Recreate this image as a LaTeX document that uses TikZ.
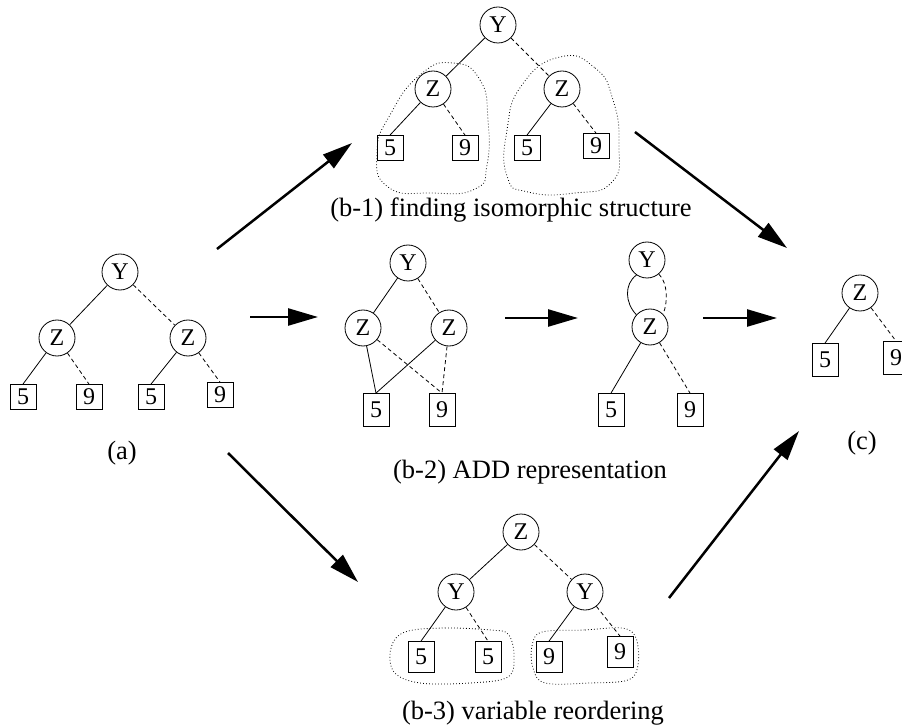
\documentclass[tikz,border=0pt]{standalone}
\usepackage{fontspec}
\setmainfont{Liberation Serif}
\usetikzlibrary{arrows.meta}
\begin{document}
\begin{tikzpicture}[x=1pt,y=-1pt,
 every node/.style={font=\fontsize{26.5}{30}\selectfont},
 vnode/.style={circle,draw,line width=0.8pt,minimum size=36pt,inner sep=0pt,font=\fontsize{24}{28}\selectfont},
 leaf/.style={draw,line width=0.8pt,minimum width=26pt,minimum height=25pt,inner sep=0pt,font=\fontsize{24}{28}\selectfont},
 leafmid/.style={leaf,minimum height=31pt},
 leaftall/.style={leaf,minimum height=33pt},
 hi/.style={line width=0.8pt},
 lo/.style={line width=0.8pt,dash pattern=on 4pt off 3pt},
 blob/.style={line width=0.8pt,dash pattern=on 0.8pt off 2.2pt},
 bigarrow/.style={line width=2.5pt,-{Triangle[length=30pt,width=17pt]}},
]
\clip (0,0) rectangle (902,727);

% (a)
\node[vnode] (aY) at (120,272) {Y};
\node[vnode] (aZ1) at (57,338) {Z};
\node[vnode] (aZ2) at (188,338) {Z};
\node[leaf] (a5a) at (23,397) {5};
\node[leaf] (a9a) at (89,397) {9};
\node[leaf] (a5b) at (151,397) {5};
\node[leaf] (a9b) at (220,395) {9};
\draw[hi] (aY) -- (aZ1);
\draw[lo] (aY) -- (aZ2);
\draw[hi] (aZ1) -- (a5a.north);
\draw[lo] (aZ1) -- (a9a.north);
\draw[hi] (aZ2) -- (a5b.north);
\draw[lo] (aZ2) -- (a9b.north);
\node (la) at (122,453) {(a)};

% (b-1)
\node[vnode] (bY) at (498,25) {Y};
\node[vnode] (bZ1) at (433,89) {Z};
\node[vnode] (bZ2) at (562,89) {Z};
\node[leaf] (b5a) at (390,148) {5};
\node[leaf] (b9a) at (465,148) {9};
\node[leaf] (b5b) at (527,148) {5};
\node[leaf] (b9b) at (596,146) {9};
\draw[hi] (bY) -- (bZ1);
\draw[lo] (bY) -- (bZ2);
\draw[hi] (bZ1) -- (b5a.north);
\draw[lo] (bZ1) -- (b9a.north);
\draw[hi] (bZ2) -- (b5b.north);
\draw[lo] (bZ2) -- (b9b.north);
\draw[blob] plot[smooth cycle,tension=0.9] coordinates {(453,63) (480,80) (488,120) (487,165) (475,189) (432,193) (388,187) (377,152) (390,115) (420,75)};
\draw[blob] plot[smooth cycle,tension=0.9] coordinates {(560,57) (595,68) (613,100) (619,145) (612,182) (575,193) (528,192) (507,176) (507,130) (522,85)};
\node (lb1) at (511,210) {(b-1) finding isomorphic structure};

% (b-2)
\node[vnode] (cY) at (408,263) {Y};
\node[vnode] (cZ1) at (363,328) {Z};
\node[vnode] (cZ2) at (449,328) {Z};
\node[leaftall] (c5) at (376,410) {5};
\node[leaftall] (c9) at (442,410) {9};
\draw[hi] (cY) -- (cZ1);
\draw[lo] (cY) -- (cZ2);
\draw[hi] (cZ1) -- (c5.north);
\draw[hi] (cZ2) -- (c5.north);
\draw[lo] (cZ1) -- (c9.north);
\draw[lo] (cZ2) -- (c9.north);

\node[vnode] (dY) at (647,260) {Y};
\node[vnode] (dZ) at (650,327) {Z};
\node[leaftall] (d5) at (611,410) {5};
\node[leaftall] (d9) at (690,410) {9};
\draw[hi] (dY.235) .. controls (624,284) and (625,303) .. (dZ.138);
\draw[lo] (dY.-50) .. controls (668,283) and (668,303) .. (dZ.45);
\draw[hi] (dZ) -- (d5.north);
\draw[lo] (dZ) -- (d9.north);
\node (lb2) at (530,472) {(b-2) ADD representation};

% (b-3)
\node[vnode] (eZ) at (521,532) {Z};
\node[vnode] (eY1) at (456,592) {Y};
\node[vnode] (eY2) at (585,592) {Y};
\node[leafmid] (e5a) at (421,657) {5};
\node[leafmid] (e5b) at (488,657) {5};
\node[leafmid] (e9a) at (549,657) {9};
\node[leafmid] (e9b) at (620,652) {9};
\draw[hi] (eZ) -- (eY1);
\draw[lo] (eZ) -- (eY2);
\draw[hi] (eY1) -- (e5a.north);
\draw[lo] (eY1) -- (e5b.north);
\draw[hi] (eY2) -- (e9a.north);
\draw[lo] (eY2) -- (e9b.north);
\draw[blob] plot[smooth cycle,tension=0.6] coordinates {(405,632) (445,628) (490,630) (508,634) (514,655) (508,677) (470,683) (420,683) (394,672) (391,648)};
\draw[blob] plot[smooth cycle,tension=0.6] coordinates {(542,632) (585,630) (622,628) (636,638) (638,665) (628,680) (590,683) (545,683) (533,668) (532,646)};
\node[inner ysep=0pt] (lb3) at (533,713) {(b-3) variable reordering};

% (c)
\node[vnode] (fZ) at (860,293) {Z};
\node[leaftall] (f5) at (825,360) {5};
\node[leaftall] (f9) at (896,358) {9};
\draw[hi] (fZ) -- (f5.north);
\draw[lo] (fZ) -- (f9.north);
\node (lc) at (862,443) {(c)};

% arrows
\coordinate (p1s) at (217,249); \coordinate (p1e) at (352,143);
\coordinate (p2s) at (635,132); \coordinate (p2e) at (787,248);
\coordinate (p3s) at (228,453); \coordinate (p3e) at (358,582);
\coordinate (p4s) at (669,598); \coordinate (p4e) at (799,431);
\coordinate (m1s) at (250,317); \coordinate (m1e) at (318,317);
\coordinate (m2s) at (505,318); \coordinate (m2e) at (578,318);
\coordinate (m3s) at (703,318); \coordinate (m3e) at (777,318);
\draw[bigarrow] (p1s) -- (p1e);
\draw[bigarrow] (p2s) -- (p2e);
\draw[bigarrow] (p3s) -- (p3e);
\draw[bigarrow] (p4s) -- (p4e);
\draw[bigarrow] (m1s) -- (m1e);
\draw[bigarrow] (m2s) -- (m2e);
\draw[bigarrow] (m3s) -- (m3e);
\end{tikzpicture}
\end{document}
